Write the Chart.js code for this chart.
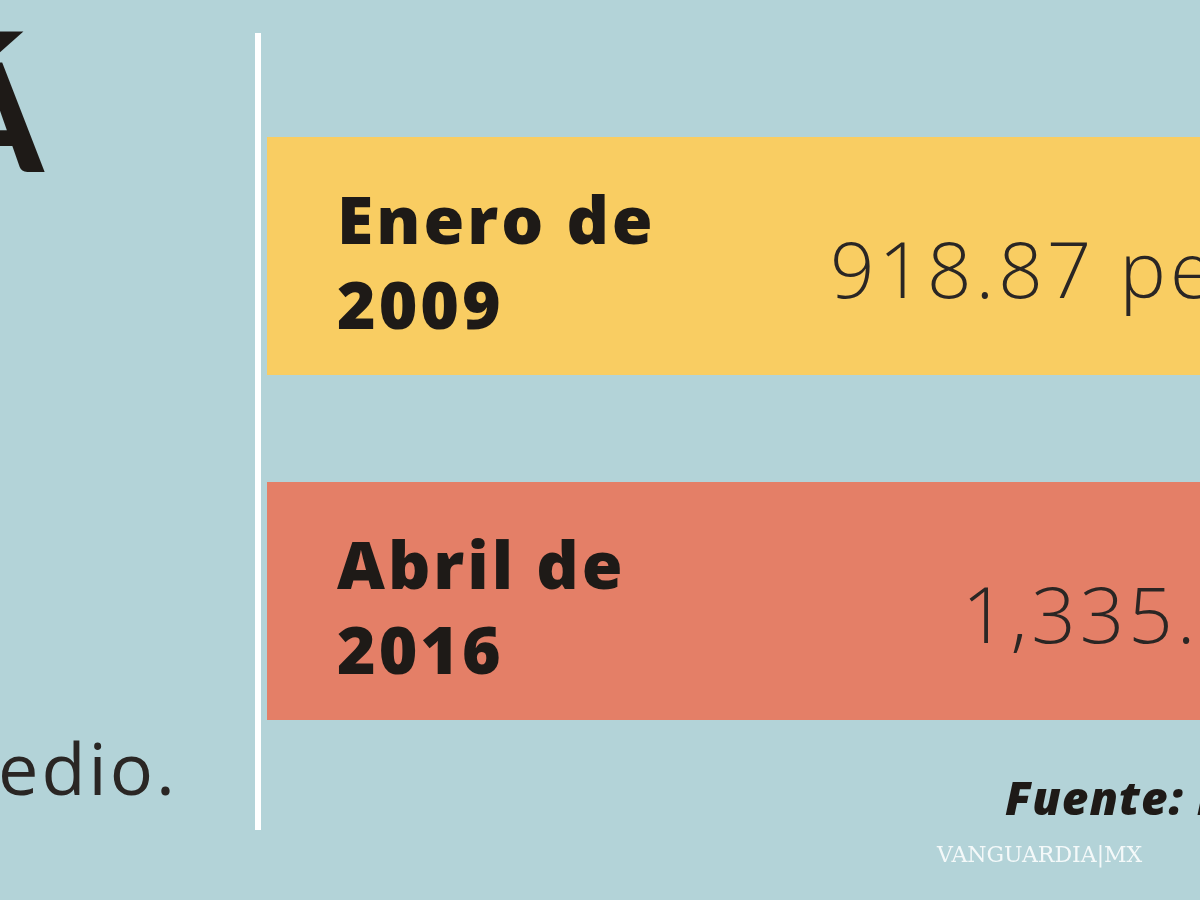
<!DOCTYPE html>
<html><head><meta charset="utf-8">
<script src="https://cdn.jsdelivr.net/npm/chart.js@4"></script>
<style>html,body{margin:0;padding:0;background:#b3d3d8;overflow:hidden}#w{position:absolute;left:0;top:0;width:1200px;height:900px}</style>
</head><body><div id="w"><canvas id="c"></canvas></div>
<script>
const categories = ["Enero de\n2009", "Abril de\n2016"];
const valueLabels = ["918.87 pesos", "1,335.46 pesos"];
const rowExtent = [1, 1];
const rowColors = ["#f9cd62", "#e47f67"];

const deco = {
  id: 'deco',
  beforeDraw(chart) {
    const c = chart.ctx;
    c.save();
    c.fillStyle = '#b3d3d8';
    c.fillRect(0, 0, chart.width, chart.height);
    c.restore();
  },
  afterDraw(chart) {
    const c = chart.ctx;
    const meta = chart.getDatasetMeta(0);
    c.save();
    c.fillStyle = '#ffffff';
    c.fillRect(255, 33, 6, 797);
    c.fillStyle = '#1e1a17';
    c.font = '900 150px Lato';
    c.textBaseline = 'alphabetic';
    c.fillText('Á', -62, 172);
    c.font = '400 72px "Open Sans"';
    c.fillStyle = '#2a2624';
    c.letterSpacing = '3px';
    c.fillText('edio.', -2, 795);
    meta.data.forEach((bar, i) => {
      const y = bar.y;
      const lines = categories[i].split('\n');
      c.fillStyle = '#1e1a17';
      c.font = '800 66px "Open Sans"';
      c.letterSpacing = '3px';
      c.fillText(lines[0], 337, y - 12);
      c.fillText(lines[1], 337, y + 73);
      c.font = '300 78px "Open Sans"';
      c.letterSpacing = '4px';
      c.fillStyle = '#2a2624';
      c.fillText(valueLabels[i], i === 0 ? 830 : 962, y + 42);
    });
    c.letterSpacing = '1px';
    c.fillStyle = '#1e1a17';
    c.font = 'italic 800 46px "Open Sans"';
    c.fillText('Fuente: Banxico', 1005, 815);
    c.letterSpacing = '0px';
    c.fillStyle = 'rgba(255,255,255,0.85)';
    c.font = '22px "DejaVu Serif"';
    c.fillText('VANGUARDIA|MX', 937, 862);
    c.restore();
  }
};

new Chart(document.getElementById('c'), {
  type: 'bar',
  data: {
    labels: categories,
    datasets: [{ data: rowExtent, backgroundColor: rowColors, borderWidth: 0,
      barPercentage: 1, categoryPercentage: 0.69 }]
  },
  options: {
    indexAxis: 'y',
    responsive: true, maintainAspectRatio: false, animation: false,
    layout: { padding: { left: 267, right: 0, top: 83.5, bottom: 126.5 } },
    plugins: { legend: { display: false }, tooltip: { enabled: false } },
    scales: {
      x: { display: false, min: 0, max: 1 },
      y: { display: false }
    }
  },
  plugins: [deco]
});
</script></body></html>
